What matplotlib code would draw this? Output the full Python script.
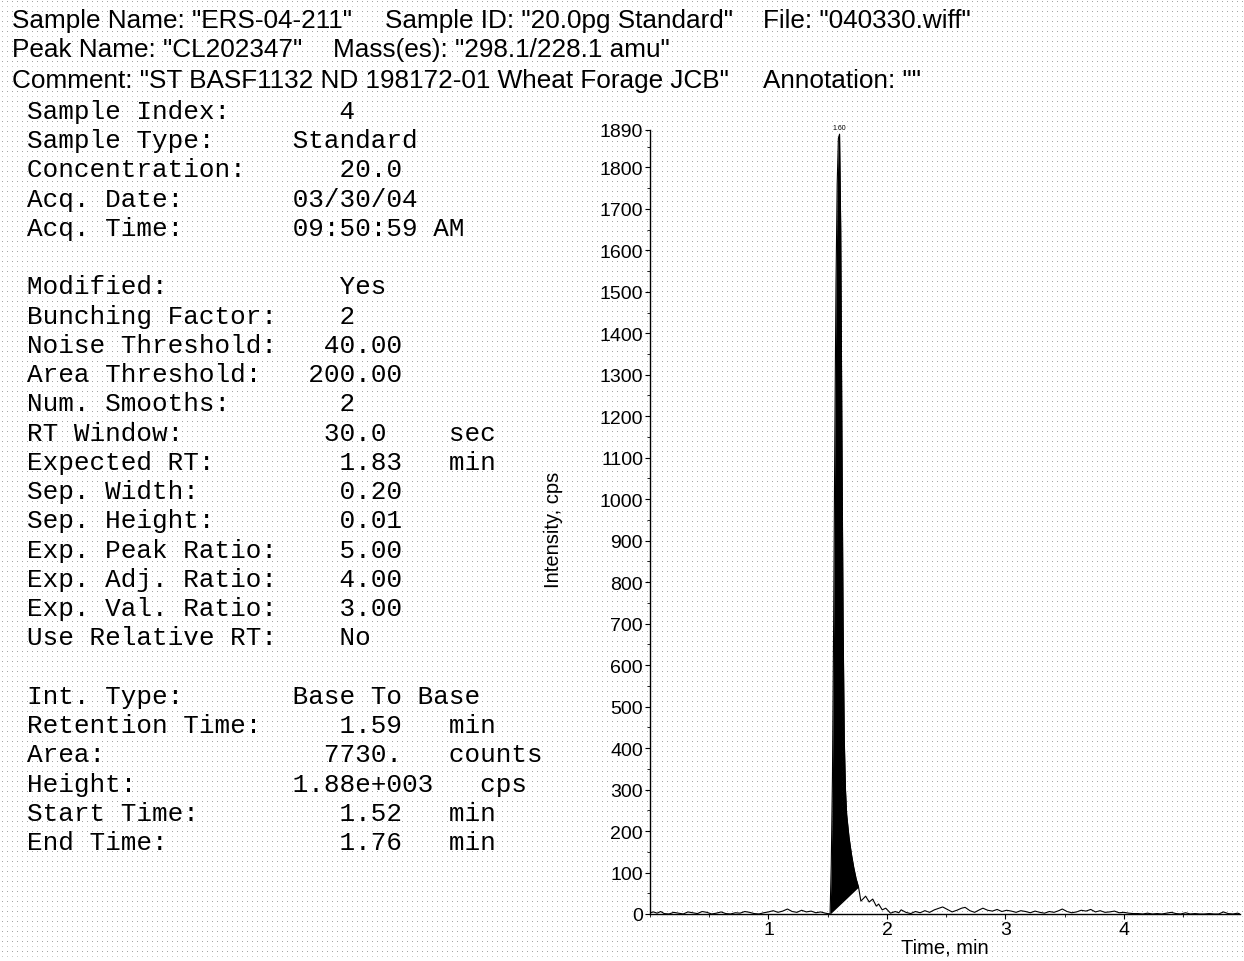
import numpy as np
import matplotlib
matplotlib.use("Agg")
import matplotlib.pyplot as plt
from matplotlib.ticker import MultipleLocator, FixedLocator

# ---------------- data ----------------
header_line1 = ['Sample Name: "ERS-04-211"', 'Sample ID: "20.0pg Standard"', 'File: "040330.wiff"']
header_line2 = ['Peak Name: "CL202347"', 'Mass(es): "298.1/228.1 amu"']
header_line3 = ['Comment: "ST BASF1132 ND 198172-01 Wheat Forage JCB"', 'Annotation: ""']

info_rows = [
    ("Sample Index:", "4", ""),
    ("Sample Type:", "Standard", ""),
    ("Concentration:", "20.0", ""),
    ("Acq. Date:", "03/30/04", ""),
    ("Acq. Time:", "09:50:59 AM", ""),
    None,
    ("Modified:", "Yes", ""),
    ("Bunching Factor:", "2", ""),
    ("Noise Threshold:", "40.00", ""),
    ("Area Threshold:", "200.00", ""),
    ("Num. Smooths:", "2", ""),
    ("RT Window:", "30.0", "sec"),
    ("Expected RT:", "1.83", "min"),
    ("Sep. Width:", "0.20", ""),
    ("Sep. Height:", "0.01", ""),
    ("Exp. Peak Ratio:", "5.00", ""),
    ("Exp. Adj. Ratio:", "4.00", ""),
    ("Exp. Val. Ratio:", "3.00", ""),
    ("Use Relative RT:", "No", ""),
    None,
    ("Int. Type:", "Base To Base", ""),
    ("Retention Time:", "1.59", "min"),
    ("Area:", "7730.", "counts"),
    ("Height:", "1.88e+003", "cps"),
    ("Start Time:", "1.52", "min"),
    ("End Time:", "1.76", "min"),
]
# character columns of value and unit in the monospace block
value_cols = [20, 17, 20, 17, 17, None, 20, 20, 19, 18, 20, 19, 20, 20, 20, 20, 20, 20, 20, None,
              17, 20, 19, 17, 20, 20]
unit_cols = [0, 0, 0, 0, 0, None, 0, 0, 0, 0, 0, 27, 27, 0, 0, 0, 0, 0, 0, None, 0, 27, 27, 29, 27, 27]

time_min = [0.00, 0.03, 0.06, 0.09, 0.12, 0.16, 0.20, 0.24, 0.28, 0.32, 0.36, 0.40, 0.44, 0.48,
            0.52, 0.56, 0.60, 0.64, 0.68, 0.72, 0.76, 0.80, 0.84, 0.88, 0.92, 0.96, 1.00, 1.04,
            1.08, 1.12, 1.16, 1.20, 1.24, 1.28, 1.32, 1.36, 1.40, 1.44, 1.48, 1.50, 1.52,
            1.53, 1.54, 1.55, 1.56, 1.57, 1.58, 1.59, 1.60, 1.61, 1.62, 1.63, 1.64, 1.65, 1.66,
            1.68, 1.70, 1.72, 1.74, 1.76,
            1.78, 1.82, 1.85, 1.88, 1.91, 1.93, 1.96, 1.99, 2.03, 2.07, 2.10, 2.12, 2.16, 2.20,
            2.24, 2.28, 2.32, 2.36, 2.40, 2.44, 2.47, 2.51, 2.55, 2.59, 2.63, 2.66, 2.70, 2.74,
            2.78, 2.81, 2.85, 2.89, 2.93, 2.97, 3.01, 3.05, 3.09, 3.13, 3.17, 3.21, 3.25, 3.29,
            3.33, 3.37, 3.41, 3.45, 3.48, 3.52, 3.56, 3.60, 3.64, 3.68, 3.72, 3.76, 3.80, 3.84,
            3.88, 3.92, 3.96, 4.00, 4.04, 4.08, 4.12, 4.16, 4.20, 4.24, 4.28, 4.32, 4.36, 4.40,
            4.44, 4.48, 4.52, 4.56, 4.60, 4.64, 4.68, 4.72, 4.76, 4.80, 4.84, 4.88, 4.92, 4.96, 4.98]
intensity_cps = [3, 5, 2, 6, 1, 0, 4, 2, 0, 5, 3, 1, 6, 4,
                 0, 2, 5, 1, 0, 3, 2, 6, 4, 1, 0, 3, 5, 8,
                 4, 7, 12, 6, 4, 9, 5, 7, 3, 5, 2, 1, 0,
                 120, 330, 700, 1150, 1520, 1760, 1870, 1880, 1650, 1150, 700, 420, 300, 240,
                 185, 145, 112, 85, 65,
                 31, 43, 29, 36, 19, 24, 10, 14, 2, 6, 3, 10, 4, 1,
                 6, 3, 8, 4, 10, 14, 17, 11, 5, 9, 14, 16, 8, 4,
                 10, 14, 9, 7, 11, 6, 9, 7, 4, 8, 6, 3, 7, 4,
                 2, 6, 4, 8, 12, 6, 3, 5, 9, 7, 11, 5, 8, 4,
                 5, 7, 3, 4, 2, 1, 1, 0, 2, 0, 1, 0, 2, 4,
                 1, 0, 3, 0, 1, 0, 0, 1, 0, 0, 5, 1, 0, 2, 0]

peak_start = 1.52
peak_end = 1.76
peak_label = "1.60"
y_ticks = [0, 100, 200, 300, 400, 500, 600, 700, 800, 900, 1000, 1100, 1200, 1300, 1400,
           1500, 1600, 1700, 1800, 1890]
x_ticks = [1, 2, 3, 4]

# ---------------- figure ----------------
W, H = 1244, 962
fig = plt.figure(figsize=(W / 100, H / 100), dpi=100, facecolor="white")

# dotted background texture
img = np.zeros((H, W, 4))
for yy in range(2, H, 5):
    shade = 0.55 if (yy // 5) % 2 == 0 else 0.75
    img[yy, 2::5, :3] = shade
    img[yy, 2::5, 3] = 0.8
fig.figimage(img, 0, 0, zorder=-10, origin="upper")

def fx(px):
    return px / W

def fy(py):
    return 1 - py / H

sans = "Liberation Sans"
mono = "Liberation Mono"

# header
hs = 18.8
fig.text(fx(12), fy(21), header_line1[0], fontsize=hs, family=sans, va="center")
fig.text(fx(385), fy(21), header_line1[1], fontsize=hs, family=sans, va="center")
fig.text(fx(763), fy(21), header_line1[2], fontsize=hs, family=sans, va="center")
fig.text(fx(12), fy(50), header_line2[0], fontsize=hs, family=sans, va="center")
fig.text(fx(333), fy(50), header_line2[1], fontsize=hs, family=sans, va="center")
fig.text(fx(12), fy(81), header_line3[0], fontsize=hs, family=sans, va="center")
fig.text(fx(763), fy(81), header_line3[1], fontsize=hs, family=sans, va="center")

# info block
ms = 18.7
for i, row in enumerate(info_rows):
    if row is None:
        continue
    label, value, unit = row
    line = label.ljust(value_cols[i]) + value
    if unit:
        line = line.ljust(unit_cols[i]) + unit
    fig.text(fx(27), fy(112 + i * 29.24), line, fontsize=ms, family=mono, va="center")

# chromatogram axes
ax_w = (1240 - 650) / W
ax = fig.add_axes([fx(650), fy(915), ax_w, (915 - 131) / H])
ax.set_facecolor("none")
t = np.array(time_min)
y = np.array(intensity_cps)
ax.plot(t, y, color="black", lw=0.8, zorder=3)
mask = (t >= peak_start) & (t <= peak_end)
base = np.interp(t[mask], [peak_start, peak_end],
                 [np.interp(peak_start, t, y), np.interp(peak_end, t, y)])
ax.fill_between(t[mask], base, y[mask], color="black", lw=0, zorder=2)
apex = t[np.argmax(y)]
ax.annotate(peak_label, (apex, y.max()), xytext=(0, 2), textcoords="offset points",
            ha="center", va="bottom", fontsize=5, family=sans)

ax.set_xlim(0.0, 4.98)
ax.set_ylim(0, 1890)
for s in ["top", "right"]:
    ax.spines[s].set_visible(False)
for s in ["left", "bottom"]:
    ax.spines[s].set_linewidth(1.0)
ax.yaxis.set_major_locator(FixedLocator(y_ticks))
ax.set_yticklabels([str(v) for v in y_ticks])
ax.yaxis.set_minor_locator(MultipleLocator(50))
ax.xaxis.set_major_locator(FixedLocator(x_ticks))
ax.set_xticklabels([str(v) for v in x_ticks])
ax.xaxis.set_minor_locator(MultipleLocator(0.5))
ax.tick_params(axis="both", which="major", length=3.5, width=0.8, labelsize=14, pad=1.5)
ax.tick_params(axis="both", which="minor", length=2, width=0.6)
for lab in ax.get_xticklabels() + ax.get_yticklabels():
    lab.set_family(sans)
ax.set_xlabel("Time, min", fontsize=14.5, family=sans, labelpad=0)
ax.set_ylabel("Intensity, cps", fontsize=14.5, family=sans)
ax.yaxis.set_label_coords((563 - 650) / 590, 0.491)

fig.savefig("out.png", dpi=100, facecolor="white")
